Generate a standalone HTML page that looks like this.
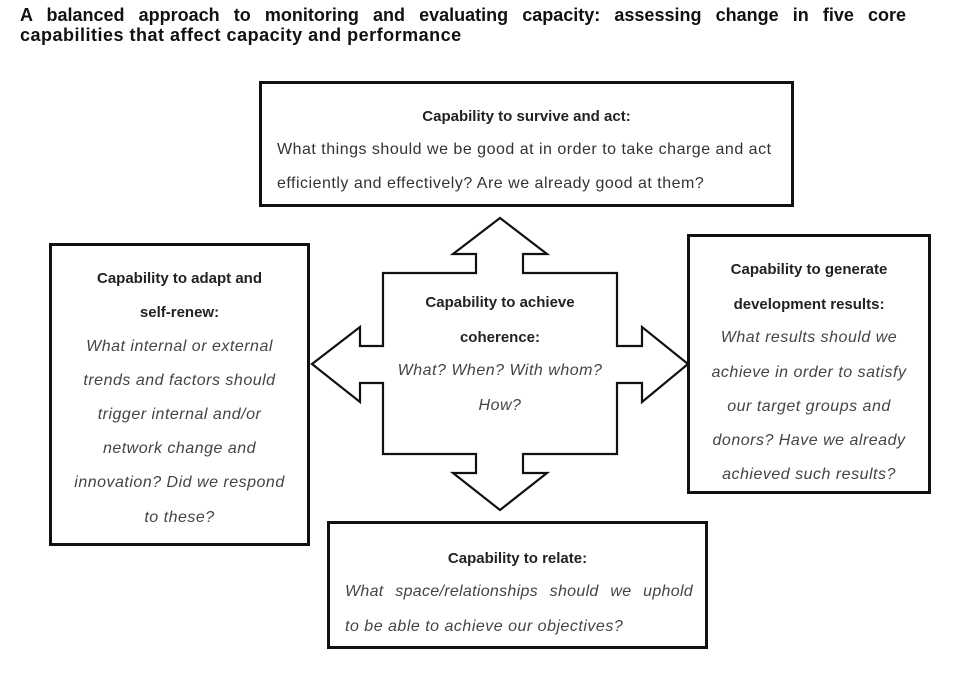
<!DOCTYPE html>
<html><head><meta charset="utf-8"><style>
body{margin:0;width:975px;height:676px;background:#fff;position:relative;overflow:hidden;font-family:"Liberation Sans",Arial,sans-serif;color:#222}
.t{position:absolute;left:20px;font-weight:bold;font-size:18px;color:#111;line-height:20px;letter-spacing:0.5px}
.box{position:absolute;border:3px solid #111;box-sizing:border-box}
.l{position:absolute;white-space:nowrap;font-size:15px}
.b{font-weight:bold;color:#222}
.i{font-style:italic;color:#444;font-size:16px;letter-spacing:0.5px}
.n{color:#333;font-size:16px;letter-spacing:0.5px}
.c{text-align:center;left:0;right:0}
</style></head><body>
<div class="t" style="top:5px;width:886px;text-align:justify;text-align-last:justify;letter-spacing:0">A balanced approach to monitoring and evaluating capacity: assessing change in five core</div>
<div class="t" style="top:25px">capabilities that affect capacity and performance</div>

<svg style="position:absolute;left:0;top:0" width="975" height="676">
<polygon points="500,218 547,254 523,254 523,273 617,273 617,346 642,346 642,327 688,364 642,402 642,383 617,383 617,454 523,454 523,473 547,473 500,510 453,473 476,473 476,454 383,454 383,383 360,383 360,402 312,364 360,327 360,346 383,346 383,273 476,273 476,254 453,254" fill="#fff" stroke="#111" stroke-width="2.2"/>
</svg>

<div class="box" style="left:259px;top:81px;width:535px;height:126px">
<div class="l b c" style="top:24px">Capability to survive and act:</div>
<div class="l n" style="left:15px;top:57px">What things should we be good at in order to take charge and act</div>
<div class="l n" style="left:15px;top:91px">efficiently and effectively? Are we already good at them?</div>
</div>

<div class="box" style="left:49px;top:243px;width:261px;height:303px">
<div class="l b c" style="top:24px">Capability to adapt and</div>
<div class="l b c" style="top:58px">self-renew:</div>
<div class="l i c" style="top:92px">What internal or external</div>
<div class="l i c" style="top:126px">trends and factors should</div>
<div class="l i c" style="top:160px">trigger internal and/or</div>
<div class="l i c" style="top:194px">network change and</div>
<div class="l i c" style="top:228px">innovation? Did we respond</div>
<div class="l i c" style="top:263px">to these?</div>
</div>

<div class="l b" style="left:383px;width:234px;text-align:center;top:294px">Capability to achieve</div>
<div class="l b" style="left:383px;width:234px;text-align:center;top:329px">coherence:</div>
<div class="l i" style="left:373px;width:254px;text-align:center;top:362px">What? When? With whom?</div>
<div class="l i" style="left:383px;width:234px;text-align:center;top:397px">How?</div>

<div class="box" style="left:687px;top:234px;width:244px;height:260px">
<div class="l b c" style="top:24px">Capability to generate</div>
<div class="l b c" style="top:59px">development results:</div>
<div class="l i c" style="top:92px">What results should we</div>
<div class="l i c" style="top:127px">achieve in order to satisfy</div>
<div class="l i c" style="top:161px">our target groups and</div>
<div class="l i c" style="top:195px">donors? Have we already</div>
<div class="l i c" style="top:229px">achieved such results?</div>
</div>

<div class="box" style="left:327px;top:521px;width:381px;height:128px">
<div class="l b c" style="top:26px">Capability to relate:</div>
<div class="l i" style="left:15px;width:348px;top:59px;text-align:justify;text-align-last:justify;letter-spacing:0.3px">What space/relationships should we uphold</div>
<div class="l i" style="left:15px;top:94px">to be able to achieve our objectives?</div>
</div>
</body></html>
